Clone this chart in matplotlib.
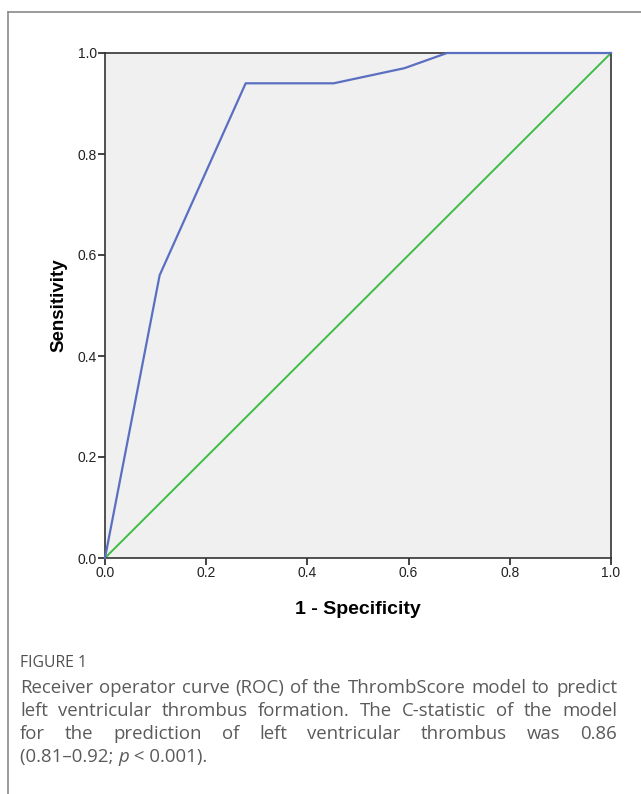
import matplotlib
matplotlib.use('Agg')
import matplotlib.pyplot as plt
from matplotlib.lines import Line2D

# ROC curve points
fpr = [0.0, 0.108, 0.278, 0.452, 0.592, 0.676, 1.0]
tpr = [0.0, 0.56, 0.94, 0.94, 0.97, 1.0, 1.0]
ref_line = [0.0, 1.0]
ticks = [0.0, 0.2, 0.4, 0.6, 0.8, 1.0]
tick_labels = ['0.0', '0.2', '0.4', '0.6', '0.8', '1.0']

caption_lines = [
    "Receiver operator curve (ROC) of the ThrombScore model to predict",
    "left ventricular thrombus formation. The C-statistic of the model",
    "for the prediction of left ventricular thrombus was 0.86",
]
caption_last = [("(0.81\u20130.92; ", 'normal'), ("p", 'italic'), (" < 0.001).", 'normal')]

W, H = 641, 794
fig = plt.figure(figsize=(W / 100, H / 100), dpi=100)

ax = fig.add_axes([105 / W, 1 - 558 / H, 506 / W, 505 / H])
ax.set_facecolor('#f0f0f0')
ax.plot(fpr, tpr, color='#5a6fc2', lw=1.6, clip_on=False, zorder=3)
ax.plot(ref_line, ref_line, color='#3dbd45', lw=1.4, clip_on=False, zorder=2)
ax.set_xlim(0, 1)
ax.set_ylim(0, 1)
ax.set_xticks(ticks)
ax.set_yticks(ticks)
ax.set_xticklabels(tick_labels, family='Liberation Sans', fontsize=10, color='#222222')
ax.set_yticklabels(tick_labels, family='Liberation Sans', fontsize=10, color='#222222')
ax.tick_params(direction='out', length=5, width=1.2, color='#222222', pad=1)
for s in ax.spines.values():
    s.set_linewidth(1.2)
    s.set_color('#333333')
ax.set_xlabel('1 - Specificity', family='Liberation Sans', fontsize=14, fontweight='bold', labelpad=15)
ax.set_ylabel('Sensitivity', family='Liberation Sans', fontsize=13.5, fontweight='bold', labelpad=7)

# page frame
fig.add_artist(Line2D([8 / W, 8 / W], [0, 1 - 12 / H], transform=fig.transFigure, color='#8a8a8a', lw=1.2))
fig.add_artist(Line2D([8 / W, 1], [1 - 12 / H, 1 - 12 / H], transform=fig.transFigure, color='#8a8a8a', lw=1.2))

cap_color = '#5a5a5a'
cap_font = ['Open Sans', 'DejaVu Sans']
cap_size = 13.4
fig.text(20 / W, 1 - 663 / H, 'FIGURE 1', family=cap_font, fontsize=11.3, color='#505050', va='center')

fig.canvas.draw()
renderer = fig.canvas.get_renderer()
x0, x1 = 20, 617
line_y = [688, 711, 734, 757]
for line, yy in zip(caption_lines, line_y):
    words = line.split(' ')
    widths = []
    for w in words:
        t = fig.text(0, 0, w, family=cap_font, fontsize=cap_size)
        widths.append(t.get_window_extent(renderer).width)
        t.remove()
    gap = (x1 - x0 - sum(widths)) / (len(words) - 1)
    x = x0
    for w, wd in zip(words, widths):
        fig.text(x / W, 1 - yy / H, w, family=cap_font, fontsize=cap_size, color=cap_color, va='center')
        x += wd + gap

x = x0
for part, style in caption_last:
    t = fig.text(x / W, 1 - line_y[3] / H, part, family=cap_font, fontsize=cap_size,
                 color=cap_color, va='center', style=style)
    x += t.get_window_extent(renderer).width

fig.savefig('out.png', dpi=100)
